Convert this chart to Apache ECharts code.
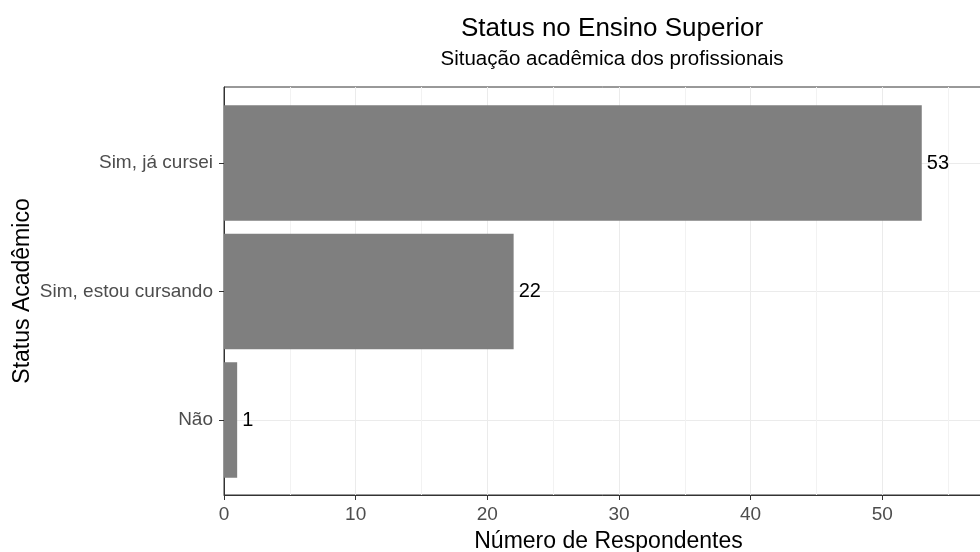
<!DOCTYPE html>
<html>
<head>
<meta charset="utf-8">
<script src="https://cdn.jsdelivr.net/npm/echarts@6/dist/echarts.min.js"></script>
<style>
  html, body { margin: 0; padding: 0; background: #fff; }
  #chart { width: 980px; height: 552px; }
</style>
</head>
<body>
<div id="chart"></div>
<script>
// dados
var categorias = ['Não', 'Sim, estou cursando', 'Sim, já cursei'];
var respondentes = [1, 22, 53];
var xMin = 0, xMax = 57.5, xStep = 10;

var fonte = '"Liberation Sans", Arial, sans-serif';
var corEixo = '#333333';
var corGrade = '#ebebeb';

var chart = echarts.init(document.getElementById('chart'));

var option = {
  backgroundColor: '#ffffff',
  animation: false,
  textStyle: { fontFamily: fonte },
  title: [
    {
      text: 'Status no Ensino Superior',
      left: 607, top: 11, textAlign: 'center',
      textStyle: { fontFamily: fonte, fontSize: 26, fontWeight: 'normal', color: '#000' }
    },
    {
      text: 'Situação acadêmica dos profissionais',
      left: 607, top: 44, textAlign: 'center',
      textStyle: { fontFamily: fonte, fontSize: 20.5, fontWeight: 'normal', color: '#000' }
    }
  ],
  grid: [
    // painel (moldura, grade e eixo x)
    { left: 224, right: -1, top: 87, bottom: 57, outerBoundsMode: 'none', containLabel: false,
      show: true, borderColor: corEixo, borderWidth: 1, backgroundColor: 'transparent' },
    // barras
    { left: 224, right: -1, top: 98.75, bottom: 67.75, outerBoundsMode: 'none', containLabel: false }
  ],
  xAxis: [
    {
      gridIndex: 0, type: 'value', min: xMin, max: xMax, interval: xStep,
      name: 'Número de Respondentes', nameLocation: 'middle', nameGap: 35,
      nameTextStyle: { fontFamily: fonte, fontSize: 23, color: '#000', padding: [0, 0, 0, 12] },
      axisLine: { show: true, lineStyle: { color: corEixo, width: 1 } },
      axisTick: { show: true, length: 5, lineStyle: { color: corEixo } },
      axisLabel: { fontFamily: fonte, fontSize: 19, color: '#4d4d4d', margin: 10, showMaxLabel: false },
      splitLine: { show: true, lineStyle: { color: corGrade, width: 1 } },
      minorTick: { show: false, splitNumber: 2 },
      minorSplitLine: { show: true, lineStyle: { color: '#f2f2f2', width: 1 } }
    },
    {
      gridIndex: 1, type: 'value', min: xMin, max: xMax, show: false
    }
  ],
  yAxis: [
    {
      gridIndex: 0, type: 'value', min: 0, max: 1,
      axisLine: { show: true, lineStyle: { color: corEixo, width: 1 } },
      axisTick: { show: false }, axisLabel: { show: false }, splitLine: { show: false },
      name: 'Status Acadêmico', nameLocation: 'middle', nameGap: 190, nameRotate: 90,
      nameTextStyle: { fontFamily: fonte, fontSize: 23, color: '#000' }
    },
    {
      gridIndex: 1, type: 'category', data: categorias,
      axisLine: { show: false },
      axisTick: { show: true, alignWithLabel: true, length: 5, lineStyle: { color: corEixo } },
      axisLabel: { fontFamily: fonte, fontSize: 19, color: '#4d4d4d', margin: 11 },
      splitLine: { show: true, alignWithLabel: true, lineStyle: { color: corGrade, width: 1 } }
    }
  ],
  series: [
    {
      type: 'bar', xAxisIndex: 1, yAxisIndex: 1,
      data: respondentes,
      barWidth: '90%',
      itemStyle: { color: '#7f7f7f' },
      label: {
        show: true, position: 'right', distance: 5,
        fontFamily: fonte, fontSize: 20, color: '#000'
      }
    }
  ]
};

chart.setOption(option);
</script>
</body>
</html>
